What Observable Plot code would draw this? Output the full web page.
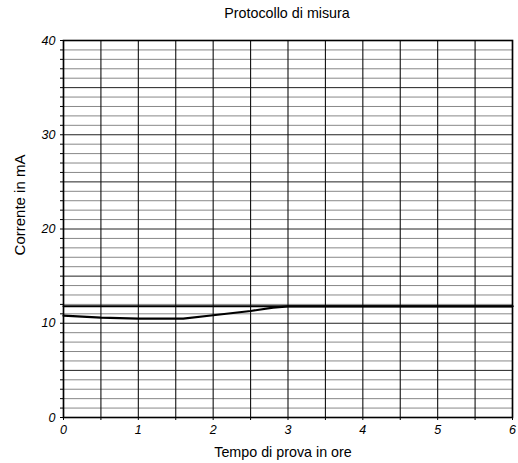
<!DOCTYPE html>
<html>
<head>
<meta charset="utf-8">
<script src="https://cdn.jsdelivr.net/npm/d3@7"></script>
<script src="https://cdn.jsdelivr.net/npm/@observablehq/plot@0.6"></script>
<style>
  body { margin: 0; background: #fff; }
</style>
</head>
<body>
<div id="chart"></div>
<script>
const titleText = "Protocollo di misura";
const xLabel = "Tempo di prova in ore";
const yLabel = "Corrente in mA";

// measured curve
const hours   = [0,    0.5,  1,    1.5,  1.6,  2,     2.5,  2.8,   3,    4,    5,    6];
const current = [10.8, 10.6, 10.5, 10.5, 10.5, 10.85, 11.3, 11.65, 11.8, 11.8, 11.8, 11.8];

// horizontal reference line
const limitHours   = [0, 6];
const limitCurrent = [11.8, 11.8];

const xTicks = [0, 1, 2, 3, 4, 5, 6];
const yTicks = [0, 10, 20, 30, 40];

const curve = hours.map((h, i) => ({h, c: current[i]}));
const limit = limitHours.map((h, i) => ({h, c: limitCurrent[i]}));
const hGrid = d3.range(0, 41, 1);
const vGrid = d3.range(0, 6.01, 0.5);

const chart = Plot.plot({
  width: 518,
  height: 463,
  marginLeft: 63,
  marginRight: 6,
  marginTop: 40,
  marginBottom: 46,
  style: {fontFamily: "'Liberation Sans', Arial, sans-serif", color: "#000", background: "#fff"},
  x: {domain: [0, 6]},
  y: {domain: [0, 40]},
  marks: [
    Plot.ruleY(hGrid.filter(d => d % 5 !== 0), {y: d => d, stroke: "#888", strokeWidth: 1}),
    Plot.ruleY(hGrid.filter(d => d % 5 === 0), {y: d => d, stroke: "#222", strokeWidth: 1}),
    Plot.ruleX(vGrid, {x: d => d, stroke: "#111", strokeWidth: 1.1}),
    Plot.axisY({ticks: hGrid, tickSize: 3, tickFormat: () => "", label: null}),
    Plot.axisY({ticks: yTicks, tickSize: 0, tickPadding: 8, tickFormat: d => String(d), fontSize: 12.5, fontStyle: "italic", label: null}),
    Plot.axisX({ticks: vGrid, tickSize: 3, tickFormat: () => "", label: null}),
    Plot.axisX({ticks: xTicks, tickSize: 0, tickPadding: 8, tickFormat: d => String(d), fontSize: 12.5, fontStyle: "italic", label: null}),
    Plot.lineY(limit, {x: "h", y: "c", stroke: "#000", strokeWidth: 2}),
    Plot.lineY(curve, {x: "h", y: "c", stroke: "#000", strokeWidth: 2.2}),
    Plot.frame({stroke: "#000", strokeWidth: 1.6}),
    Plot.text([titleText], {frameAnchor: "top", textAnchor: "middle", lineAnchor: "middle", dx: -1, dy: -27, fontSize: 14.3}),
    Plot.text([yLabel], {frameAnchor: "left", textAnchor: "middle", lineAnchor: "middle", dx: -43, dy: -24, rotate: -90, fontSize: 15}),
    Plot.text([xLabel], {frameAnchor: "bottom", textAnchor: "middle", lineAnchor: "middle", dx: -5, dy: 35, fontSize: 14.3})
  ]
});
document.getElementById("chart").append(chart);
</script>
</body>
</html>
